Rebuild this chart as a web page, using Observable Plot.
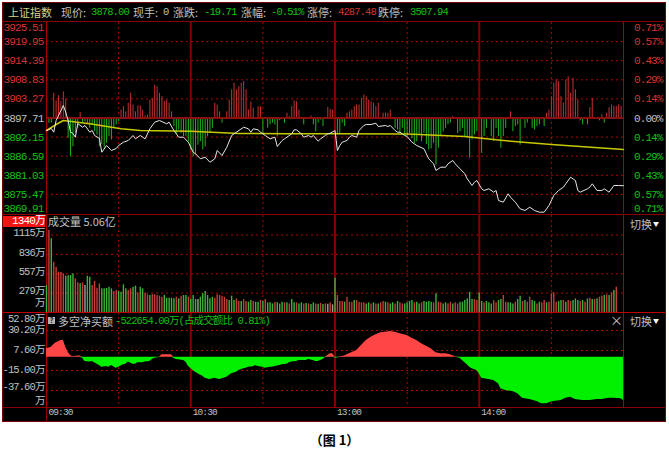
<!DOCTYPE html>
<html><head><meta charset="utf-8">
<script src="https://cdn.jsdelivr.net/npm/d3@7"></script>
<script src="https://cdn.jsdelivr.net/npm/@observablehq/plot@0.6"></script>
<style>
html,body{margin:0;padding:0;background:#fff;}
#wrap{position:relative;width:669px;height:463px;overflow:hidden;background:#fff;}
#black{position:absolute;left:2px;top:2px;width:662px;height:418px;background:#000;border:1px solid #7a0000;}
#wrap svg{position:absolute;left:0;}
#wrap svg text{letter-spacing:-0.9px;}
.t{position:absolute;white-space:nowrap;line-height:14px;font-size:11px;font-family:'Noto Sans CJK SC',sans-serif;}
.n{font-family:'Liberation Mono','Noto Sans CJK SC',monospace;letter-spacing:-0.9px;font-size:10.5px;}
.hl{position:absolute;left:3px;width:662px;height:1px;}
</style></head><body><div id="wrap"><div id="black"></div></div>
<script>
// ---------- data ----------
const preClose = 3897.71;
const priceTicks = [3925.51,3919.95,3914.39,3908.83,3903.27,3897.71,3892.15,3886.59,3881.03,3875.47,3869.91];
const pctLabels = ["0.71%","0.57%","0.43%","0.29%","0.14%","0.00%","0.14%","0.29%","0.43%","0.57%","0.71%"];
const hourTicks = [60,120,180];
const halfHourTicks = [30,90,150,210];
const timeTicks = [0,60,120,180];
const timeLabels = ["09:30","10:30","13:00","14:00"];

const pricePoints = [[0,3894.07],[2,3894.65],[3,3893.58],[4,3896.98],[6,3899.89],[7,3901.35],[8,3899.40],[9,3896.98],[10,3893.58],[11,3893.20],[12,3892.12],[13,3896.11],[15,3895.03],[16,3895.53],[18,3893.58],[19,3894.07],[20,3892.62],[22,3891.74],[23,3887.75],[25,3889.70],[27,3888.25],[29,3888.83],[30,3889.70],[32,3890.67],[34,3891.16],[36,3892.62],[37,3891.65],[39,3892.62],[41,3891.65],[43,3894.57],[45,3896.49],[47,3896.98],[50,3896.02],[51,3896.49],[53,3894.07],[55,3892.12],[57,3892.12],[59,3890.67],[61,3887.75],[62,3887.29],[64,3885.83],[66,3886.30],[68,3884.84],[70,3885.83],[71,3888.25],[73,3886.79],[75,3889.21],[77,3892.62],[79,3893.58],[82,3895.03],[84,3894.57],[85,3893.58],[86,3894.57],[88,3894.27],[89,3893.58],[91,3892.62],[92,3892.12],[93,3891.65],[95,3892.12],[96,3889.41],[98,3891.16],[99,3891.65],[100,3892.12],[102,3893.11],[103,3894.27],[104,3894.27],[106,3893.11],[107,3892.12],[109,3892.62],[110,3892.12],[111,3892.62],[113,3890.96],[114,3891.65],[116,3892.62],[117,3893.11],[118,3893.29],[120,3894.07],[121,3888.25],[122,3889.70],[123,3890.67],[125,3891.16],[126,3892.12],[127,3892.62],[129,3892.12],[130,3894.07],[132,3895.53],[133,3895.82],[135,3895.82],[137,3896.20],[138,3895.24],[141,3895.53],[142,3895.24],[143,3895.53],[145,3894.07],[146,3893.58],[147,3893.58],[149,3892.62],[150,3892.32],[152,3890.67],[153,3890.20],[154,3889.70],[157,3888.74],[158,3887.29],[159,3885.83],[161,3884.38],[162,3882.43],[164,3883.39],[166,3883.39],[167,3884.38],[169,3885.34],[170,3884.38],[172,3882.92],[174,3881.47],[175,3880.01],[177,3878.06],[178,3879.02],[179,3879.52],[181,3877.10],[182,3876.61],[184,3877.10],[186,3876.11],[187,3876.61],[188,3873.69],[190,3873.20],[192,3875.64],[193,3874.66],[195,3873.20],[197,3871.28],[199,3870.78],[201,3871.74],[203,3870.78],[205,3870.29],[207,3870.29],[209,3872.24],[211,3875.15],[213,3876.61],[215,3877.57],[216,3878.56],[218,3880.48],[220,3879.52],[221,3876.61],[222,3876.11],[225,3877.10],[226,3877.57],[227,3878.56],[229,3876.61],[231,3876.61],[232,3877.10],[234,3876.11],[236,3878.06],[238,3878.06],[240,3878.00]];

const avgPoints = [[0,3894.07],[4,3895.82],[7,3896.98],[18,3896.02],[31,3894.57],[39,3894.07],[60,3893.87],[80,3893.20],[100,3893.11],[120,3893.11],[150,3893.05],[174,3892.32],[190,3891.16],[210,3890.00],[240,3888.54]];

const flowBars = [[1,-1.5],[2,-1.5],[3,7.2],[4,5.0],[5,6.5],[6,4.8],[7,7.6],[8,5.5],[9,-5.9],[10,-11.3],[11,-8.4],[12,-4.5],[13,-3.0],[14,1.6],[15,-1.5],[16,-1.2],[17,-2.0],[18,-3.0],[19,-2.0],[20,-4.0],[21,-5.0],[22,-8.4],[23,-7.8],[24,-8.8],[25,-7.4],[26,-5.4],[27,-6.4],[28,-3.0],[29,-2.0],[30,-1.1],[31,2.3],[32,3.3],[33,1.8],[34,4.3],[35,7.2],[36,3.8],[37,1.8],[38,3.5],[39,3.5],[40,2.3],[41,0.6],[42,0.9],[43,5.2],[44,5.7],[45,9.6],[46,9.1],[47,7.2],[48,6.2],[49,4.8],[50,5.2],[51,4.3],[52,1.8],[53,-2.5],[54,-4.9],[55,-3.5],[56,-4.5],[57,-5.4],[58,-5.4],[59,-6.9],[60,-9.3],[61,-11.3],[62,-10.8],[63,-7.9],[64,-6.9],[65,-9.3],[66,-8.4],[67,-5.4],[68,-4.5],[69,-3.0],[70,4.3],[71,3.8],[72,1.8],[73,-1.5],[75,1.8],[76,5.2],[77,8.2],[78,10.1],[79,8.2],[80,9.1],[81,10.1],[82,10.6],[83,8.2],[84,2.3],[85,4.7],[86,2.8],[88,3.3],[89,3.3],[90,-4.5],[92,-3.0],[93,-2.0],[94,-1.5],[95,-2.0],[96,-5.4],[97,-0.8],[99,-1.5],[100,1.4],[101,0.4],[102,3.3],[103,5.0],[104,4.7],[105,2.3],[107,-2.0],[110,0.6],[111,-2.0],[112,-4.0],[113,-1.5],[114,-0.6],[115,-2.5],[117,3.1],[118,2.5],[119,2.3],[121,-4.9],[122,-4.5],[123,-1.5],[124,-2.5],[125,1.4],[126,1.8],[127,2.3],[128,3.3],[129,3.8],[130,3.8],[131,5.7],[132,6.7],[133,6.2],[134,5.2],[135,4.7],[136,4.3],[137,3.3],[138,4.3],[140,1.4],[141,1.4],[142,1.4],[143,2.3],[145,-3.0],[146,-3.5],[147,-4.5],[148,-3.0],[149,-4.9],[150,-5.4],[151,-4.5],[152,-6.0],[153,-7.4],[154,-6.9],[155,-4.9],[156,-6.9],[157,-4.5],[158,-7.7],[159,-9.3],[160,-9.0],[161,-7.4],[162,-13.7],[163,-8.8],[164,-5.4],[165,-4.0],[166,-3.0],[167,-2.0],[168,-1.5],[169,0.4],[171,-4.5],[172,-4.0],[173,-3.0],[174,-5.4],[175,-5.9],[176,-11.7],[177,-6.4],[178,-4.9],[179,-4.0],[181,-10.3],[182,-5.4],[183,-3.0],[185,-5.4],[186,-6.9],[187,-3.0],[188,-5.4],[189,-8.8],[190,-5.4],[191,-3.0],[193,1.8],[194,-4.0],[195,-2.5],[196,-2.0],[197,-7.9],[199,-3.0],[200,-1.5],[202,-3.0],[203,-3.5],[204,-2.5],[205,-2.0],[207,-2.5],[208,1.4],[209,2.3],[210,6.2],[211,10.1],[212,11.1],[213,10.6],[214,6.2],[215,4.3],[216,11.1],[217,12.0],[218,7.2],[219,11.6],[220,8.2],[221,5.2],[222,-0.8],[223,-2.0],[225,-2.0],[226,3.0],[227,5.7],[230,-0.8],[231,1.0],[232,-1.5],[233,1.4],[234,3.0],[235,3.8],[236,3.4],[237,3.3],[238,3.8],[239,3.4]];

// volume (万), one bar per minute; direction r=up, g=down, n=flat
const volAM = [388,1179,1060,724,652,580,575,556,522,527,
532,556,484,427,412,427,388,522,508,388,
446,350,412,340,340,345,364,340,302,316,
302,292,398,340,316,340,364,378,282,364,
340,282,254,244,254,254,244,235,220,244,
206,206,206,196,220,196,235,244,244,220,
186,244,186,186,220,269,302,244,196,220,
206,254,244,235,220,186,172,235,172,196,
158,158,186,158,148,172,158,148,148,172,
158,186,139,139,124,148,139,124,148,139,
139,124,186,139,139,124,139,124,130,124,
115,139,124,120,130,115,124,120,139,110];
const dirAM = "grgrrrrrgg"+"ggrrgrnggr"+"rrrgggggrr"+"ggggrrggrg"+"grrgrrrrrg"+"ggggrgrggr"+"gggngggggg"+"rrrrrrgggr"+"rgrrggrggr"+"grgggrgggr"+"grggrggrgr"+"ggrgrgrnrn";
const volPM = [493,
244,158,158,148,220,148,148,172,172,148,
139,139,124,139,124,139,124,124,139,158,
148,139,124,139,124,158,139,124,124,139,
158,172,139,148,124,139,158,148,158,148,
139,
268,
148,139,124,139,124,148,124,139,124,148,148,172,196,
292,
186,186,172,
282,
158,139,158,139,124,172,139,172,187,
244,
148,139,139,124,148,187,
235,
158,172,148,
220,
172,158,124,148,139,172,139,148,
268,283,
148,158,172,172,148,172,158,172,196,172,158,172,148,196,206,187,187,196,220,235,244,254,244,283,316,
364];
const dirPM = "g"+"rrrgrrrgrr"+"rrggrgrgrr"+"grggrgrrgg"+"ggrggrgggg"+"r"+"g"+"rrggrrgrrgggg"+"g"+"grr"+"g"+"grgggrrgg"+"r"+"rgggrg"+"g"+"rgr"+"r"+"ggrgrrgr"+"rr"+"rggrgrrgggrgrgrgrgrrgrgrg"+"r";
const volTicks = [1115,836,557,279];
const volLabels = ["1115万","836万","557万","279万"];

// net buy (万)
const netPoints = [[0,9.5],[2,11.3],[3,14.0],[4,16.3],[6,18.9],[7,19.3],[8,11.3],[9,5.7],[10,1.95],[11,0.5],[13,1.5],[14,1.5],[15,-1.1],[16,-4.8],[18,-5.5],[19,-4.8],[20,-6.3],[22,-9.4],[23,-11.3],[25,-10.5],[26,-11.3],[27,-9.4],[29,-12.4],[30,-11.3],[32,-8.6],[33,-7.8],[34,-5.5],[36,-7.8],[37,-7.8],[38,-6.3],[40,-6.3],[41,-5.5],[43,-4.8],[44,-2.6],[45,-1.1],[47,-0.3],[48,2.7],[50,2.7],[52,2.7],[53,-1.1],[54,-2.6],[57,-3.7],[58,-5.5],[59,-10.1],[61,-15.0],[62,-16.9],[63,-18.7],[65,-21.4],[66,-23.7],[68,-25.2],[69,-24.4],[70,-23.7],[72,-25.2],[73,-24.4],[75,-22.6],[76,-20.7],[77,-18.7],[79,-16.9],[80,-15.0],[82,-13.1],[83,-12.4],[84,-11.3],[86,-10.9],[87,-9.4],[88,-10.5],[90,-11.3],[91,-12.4],[93,-11.3],[94,-11.3],[95,-10.5],[97,-9.4],[98,-8.6],[100,-7.8],[101,-6.3],[102,-5.5],[104,-4.8],[105,-3.7],[107,-3.7],[108,-3.7],[109,-2.6],[111,-3.7],[112,-4.8],[113,-4.8],[115,-2.6],[116,-0.3],[118,3.9],[119,3.9],[120,-1.0],[121,-1.0],[122,0.5],[124,1.5],[126,3.9],[129,7.6],[131,13.3],[133,18.9],[135,22.6],[137,25.3],[139,27.6],[141,28.3],[143,29.1],[145,28.3],[147,26.5],[150,24.6],[152,21.5],[154,18.9],[156,15.2],[158,12.5],[160,9.5],[162,5.0],[164,3.9],[166,3.9],[168,2.7],[170,0.5],[172,-1.1],[173,-3.7],[175,-8.6],[176,-11.3],[177,-13.1],[179,-15.0],[180,-18.7],[181,-23.7],[184,-25.2],[186,-26.3],[188,-30.0],[189,-35.7],[191,-37.6],[194,-38.7],[196,-41.3],[198,-46.3],[201,-47.8],[204,-50.0],[206,-52.6],[208,-52.6],[210,-50.7],[211,-50.0],[214,-48.9],[216,-46.3],[218,-45.2],[220,-47.8],[223,-48.9],[226,-48.9],[229,-47.8],[231,-47.8],[234,-46.3],[236,-46.3],[239,-47.0],[240,-48.9]];
const netTicks = [52.8,30.2,7.6,-15.0,-37.6];
const netLabels = ["52.80万","30.20万","7.60万","-15.00万","-37.60万"];

// ---------- style ----------
const gray="#c0c0c0", red="#d83232", green="#12c012";
const gridDash="#b00000", gridSolid="#800000", frameRed="#a80000";
const mono="Liberation Mono, Noto Sans CJK SC, monospace";
const wrap=document.getElementById("wrap");

const common = {width:669, marginLeft:46, marginRight:46,
  x:{domain:[0,240], axis:null}, color:{type:"identity"},
  style:{background:"transparent", overflow:"visible"}};
const vgrid = () => [
  Plot.ruleX(halfHourTicks,{stroke:gridDash,strokeDasharray:"2,3"}),
  Plot.ruleX(hourTicks,{stroke:gridSolid,strokeWidth:2}),
  Plot.ruleX([0,240],{stroke:frameRed})
];
function place(svg, top){ svg.style.top=top+"px"; wrap.appendChild(svg); }

// ---------- main price panel ----------
const idx = d3.range(priceTicks.length);
const lc = i => i<5 ? red : (i===5 ? gray : green);
const price = pricePoints.map(([m,v])=>({m,v}));
const avg = avgPoints.map(([m,v])=>({m,v}));
const flow = flowBars.map(([m,v])=>({m,v}));
const labelMarks = (sel, dy) => [
  Plot.text(sel,{y:i=>priceTicks[i],text:i=>priceTicks[i].toFixed(2),fill:lc,frameAnchor:"left",textAnchor:"end",dx:-3,dy,fontFamily:mono,fontSize:11}),
  Plot.text(sel,{y:i=>priceTicks[i],text:i=>pctLabels[i],fill:lc,frameAnchor:"right",textAnchor:"end",dx:39,dy,fontFamily:mono,fontSize:11})
];
const main = Plot.plot({...common, height:214, marginTop:22, marginBottom:1,
  y:{domain:[priceTicks[10],priceTicks[0]], axis:null},
  marks:[
    Plot.ruleY(idx.filter(i=>i>0&&i<10&&i!==5),{y:i=>priceTicks[i],stroke:gridDash,strokeDasharray:"2,3"}),
    ...vgrid(),
    Plot.ruleX(flow,{x:"m",y1:()=>preClose,y2:d=>preClose+d.v,stroke:d=>d.v>=0?"#c83030":"#1eb41e",strokeWidth:1}),
    Plot.ruleY([preClose],{stroke:"#8a1010",strokeWidth:2}),
    Plot.line(avg,{x:"m",y:"v",stroke:"#c8c800",strokeWidth:1.5}),
    Plot.line(price,{x:"m",y:"v",stroke:"#e6e6e6",strokeWidth:1}),
    ...labelMarks(idx.filter(i=>i>0&&i<10),0),
    ...labelMarks([0],5),
    ...labelMarks([10],-5)
  ]});
place(main,0);

// ---------- volume panel ----------
const volume = volAM.concat(volPM);
const volDir = dirAM + dirPM;
const volColor = {r:"#c83c3c", g:"#3cb43c", n:"#a0a0a0"};
const vol = volume.map((v,i)=>({m:i,v,d:volDir[i]}));
const volP = Plot.plot({...common, height:100, marginTop:1, marginBottom:2,
  y:{domain:[0,1395], axis:null},
  marks:[
    Plot.ruleY(volTicks,{stroke:gridDash,strokeDasharray:"2,3"}),
    ...vgrid(),
    Plot.ruleX(vol,{x:"m",y1:()=>0,y2:"v",stroke:d=>volColor[d.d],strokeWidth:1.4}),
    Plot.text(d3.range(volTicks.length),{y:i=>volTicks[i],text:i=>volLabels[i],fill:gray,frameAnchor:"left",textAnchor:"end",dx:-2,dy:-2,fontFamily:mono,fontSize:10.5}),
    Plot.text(["万"],{text:d=>d,fill:gray,frameAnchor:"bottom-left",textAnchor:"end",dx:-2,dy:-7,fontFamily:mono,fontSize:10.5})
  ]});
place(volP,214);

// ---------- net buy panel ----------
const net = netPoints.map(([m,v])=>({m,v}));
const netP = Plot.plot({...common, height:110, marginTop:0, marginBottom:15,
  y:{domain:[-56.81,50.54], axis:null},
  marks:[
    Plot.ruleY(netTicks.slice(1),{stroke:gridDash,strokeDasharray:"2,3"}),
    ...vgrid(),
    Plot.areaY(net,{x:"m",y1:()=>0,y2:d=>Math.max(d.v,0),fill:"#ff4646"}),
    Plot.areaY(net,{x:"m",y1:()=>0,y2:d=>Math.min(d.v,0),fill:"#00f000"}),
    Plot.text([1,2,3],{y:i=>netTicks[i],text:i=>netLabels[i],fill:gray,frameAnchor:"left",textAnchor:"end",dx:-2,dy:-1,fontFamily:mono,fontSize:10.5}),
    Plot.text([4],{y:i=>netTicks[i],text:i=>netLabels[i],fill:gray,frameAnchor:"left",textAnchor:"end",dx:-2,dy:-4,fontFamily:mono,fontSize:10.5}),
    Plot.text([0],{y:i=>netTicks[i],text:i=>netLabels[i],fill:gray,frameAnchor:"left",textAnchor:"end",dx:-2,dy:8,fontFamily:mono,fontSize:10.5}),
    Plot.text(["万"],{text:d=>d,fill:gray,frameAnchor:"bottom-left",textAnchor:"end",dx:-2,dy:-4,fontFamily:mono,fontSize:10.5}),
    Plot.text(timeTicks,{x:d=>d,text:(d,i)=>timeLabels[i],fill:gray,frameAnchor:"bottom",textAnchor:"start",dx:2,dy:7,fontFamily:mono,fontSize:9.5})
  ]});
place(netP,312);

// ---------- frame lines & html text ----------
function hline(y,c){const d=document.createElement("div");d.className="hl";d.style.top=y+"px";d.style.background=c;wrap.appendChild(d);}
hline(21,"#8b0000"); hline(214,"#8b0000"); hline(312,"#c00000"); hline(407,"#8b0000");
const vl=document.createElement("div");vl.style.cssText="position:absolute;left:46px;top:407px;width:1px;height:14px;background:#8b0000";wrap.appendChild(vl);

function txt(s,x,top,color,cls,extra){const d=document.createElement("div");d.className="t "+(cls||"");d.textContent=s;d.style.left=x+"px";d.style.top=top+"px";d.style.color=color;if(extra)d.style.cssText+=extra;wrap.appendChild(d);return d;}
const header=[["上证指数",8,"#d2d28c",""],["现价:",61,gray,""],["3878.00",91,green,"n"],["现手:",133,gray,""],["0",163,gray,"n"],["涨跌:",173,gray,""],["-19.71",204,green,"n"],["涨幅:",241,gray,""],["-0.51%",271,green,"n"],["涨停:",307,gray,""],["4287.48",338,red,"n"],["跌停:",378,gray,""],["3507.94",410,green,"n"]];
header.forEach(([s,x,c,k])=>txt(s,x,5,c,k));

txt("1340万",3,216,"#fff","n","width:42px;height:11px;line-height:11px;background:#f01414;text-align:right;font-size:11px;");
txt("成交量 5.06亿",48,214,gray,"");
txt("切换",630,217,gray,"");
txt("▼",653,217,"#fff","","font-size:6px;");
txt("切换",630,314,gray,"");
txt("▼",653,314,"#fff","","font-size:6px;");
txt("?",48,317,"#000","","width:7px;height:7px;line-height:7px;background:#b4b4b4;font-size:7px;font-weight:bold;text-align:center;");
txt("多空净买额",58,314,gray,"");
txt("-522654.00万(占成交额比 0.81%)",115,314,green,"n");
txt("×",610,313,gray,"","font-size:13px;");
txt("（图 1）",0,433,"#000","","width:669px;text-align:center;font-size:13px;font-weight:bold;");
</script></body></html>
